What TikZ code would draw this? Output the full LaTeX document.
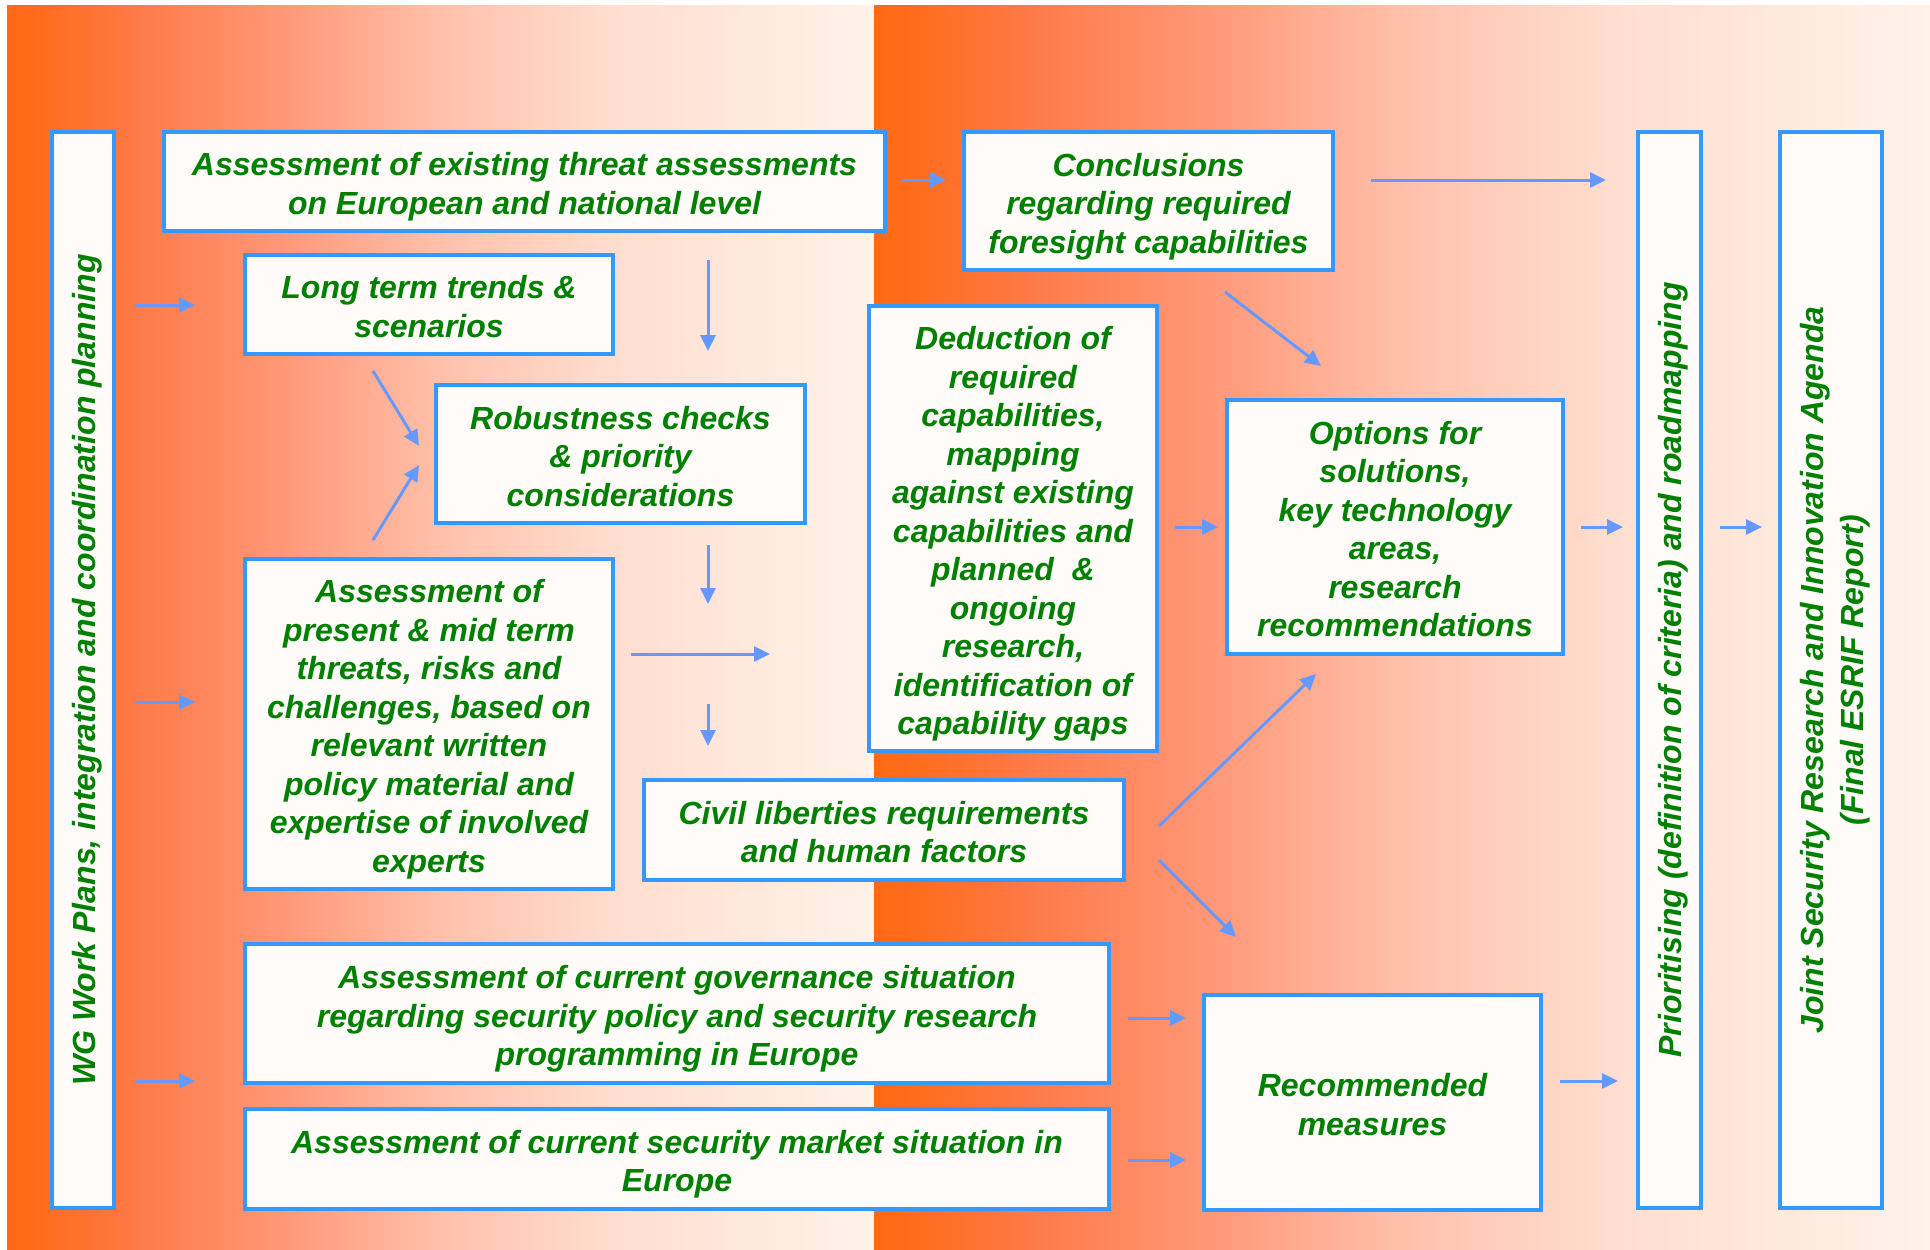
\documentclass[tikz,border=0pt]{standalone}
\usepackage{fontspec}
\setmainfont{Liberation Sans}
\usepackage{graphicx}
\usetikzlibrary{arrows.meta,calc}
\definecolor{txtgreen}{RGB}{0,128,0}
\definecolor{boxblue}{RGB}{51,153,255}
\definecolor{arrblue}{RGB}{102,153,255}
\definecolor{boxfill}{RGB}{255,251,248}
\definecolor{bgA}{RGB}{255,105,20}
\definecolor{bgB}{RGB}{255,108,28}
\definecolor{bgC}{RGB}{255,122,72}
\definecolor{bgD}{RGB}{255,152,120}
\definecolor{bgE}{RGB}{255,192,170}
\definecolor{bgF}{RGB}{255,222,208}
\definecolor{bgG}{RGB}{255,242,232}
\pgfdeclarehorizontalshading{panel}{100bp}{color(0bp)=(bgA); color(25bp)=(bgA); color(27bp)=(bgB); color(32.5bp)=(bgC); color(41bp)=(bgD); color(50bp)=(bgE); color(60bp)=(bgF); color(75bp)=(bgG); color(100bp)=(bgG)}
\newcommand\fl{\rule{0pt}{34pt}}
\newcommand\vl{\rule{0pt}{31.5pt}}
\begin{document}
\begin{tikzpicture}[x=1pt,y=-1pt,
  box/.style={draw=boxblue, line width=4pt, fill=boxfill, inner sep=0pt, align=center,
    text=txtgreen, font=\fontsize{32}{38.5}\selectfont\bfseries\itshape},
  tbox/.style={box, execute at end node={\rule[-6.8pt]{0pt}{6.8pt}}},
  arr/.style={draw=arrblue, line width=3pt, -{Triangle[length=16pt,width=15pt]}}]
\useasboundingbox (0,0) rectangle (1930,1250);
\fill[white] (0,0) rectangle (1930,1250);
\fill[shading=panel] (7,5) rectangle (874,1250);
\fill[shading=panel] (874,5) rectangle (1930,1250);

% nodes
\node[box, minimum width=62pt, minimum height=1076pt] (wg) at (83,670)
  {\rotatebox{90}{\vl WG Work Plans, integration and coordination planning}};
\node[box, minimum width=63pt, minimum height=1076pt] (pri) at (1669.5,670)
  {\rotatebox{90}{\vl Prioritising (definition of criteria) and roadmapping}};
\node[box, minimum width=102pt, minimum height=1076pt] (jnt) at (1831,670)
  {\rotatebox{90}{\renewcommand\arraystretch{1.05}\begin{tabular}{@{}c@{}}\rule{0pt}{37pt}Joint Security Research and Innovation Agenda\\(Final ESRIF Report)\end{tabular}}};
\node[tbox, minimum width=721pt, minimum height=99pt] (ass) at (524.5,181.5)
  {\fl Assessment of existing threat assessments\\on European and national level};
\node[tbox, minimum width=369pt, minimum height=138pt] (con) at (1148.5,201)
  {\fl Conclusions\\regarding required\\foresight capabilities};
\node[tbox, minimum width=368pt, minimum height=99pt] (lt) at (429,304.5)
  {\fl Long term trends \&\\scenarios};
\node[tbox, minimum width=369pt, minimum height=138pt] (rob) at (620.5,454)
  {\fl Robustness checks\\\& priority\\considerations};
\node[tbox, minimum width=288pt, minimum height=445pt] (ded) at (1013,528.5)
  {\fl Deduction of\\required\\capabilities,\\mapping\\against existing\\capabilities and\\planned\ \ \&\\ongoing\\research,\\identification of\\capability gaps};
\node[tbox, minimum width=336pt, minimum height=254pt] (opt) at (1395,527)
  {\fl Options for\\solutions,\\key technology\\areas,\\research\\recommendations};
\node[tbox, minimum width=368pt, minimum height=330pt] (pr) at (429,724)
  {\fl Assessment of\\present \& mid term\\threats, risks and\\challenges, based on\\relevant written\\policy material and\\expertise of involved\\experts};
\node[tbox, minimum width=480pt, minimum height=100pt] (civ) at (884,830)
  {\fl Civil liberties requirements\\and human factors};
\node[tbox, minimum width=864pt, minimum height=139pt] (gov) at (677,1013.5)
  {\fl Assessment of current governance situation\\regarding security policy and security research\\programming in Europe};
\node[tbox, minimum width=864pt, minimum height=100pt] (mkt) at (677,1159)
  {\fl Assessment of current security market situation in\\Europe};
\node[tbox, minimum width=337pt, minimum height=215pt] (rec) at (1372.5,1102.5)
  {\fl Recommended\\measures};

% connectors
\draw[arr, shorten <=19pt, shorten >=48pt] (wg.east |- 0,305) -- (lt.west |- 0,305);
\draw[arr, shorten <=19pt, shorten >=48pt] (wg.east |- 0,702) -- (pr.west |- 0,702);
\draw[arr, shorten <=19pt, shorten >=48pt] (wg.east |- 0,1081) -- (gov.west |- 0,1081);
\draw[arr, shorten <=15pt, shorten >=16pt] (ass.east |- 0,180) -- (con.west |- 0,180);
\draw[arr, shorten <=36pt, shorten >=30pt] (con.east |- 0,180) -- (pri.west |- 0,180);
\draw[arr, shorten <=27pt, shorten >=32pt] (ass.south -| 708,0) -- (rob.north -| 708,0);
\draw[arr] ($(lt.south)+(-56,15)$) -- ($(rob.west)+(-15,-8)$);
\draw[arr] ($(pr.north)+(-56,-17)$) -- ($(rob.west)+(-15,11)$);
\draw[arr, shorten <=20pt, shorten >=174pt] (rob.south -| 708,0) -- (civ.north -| 708,0);
\draw[arr, shorten <=16pt, shorten >=97pt] (pr.east |- 0,654) -- (ded.west |- 0,654);
\draw[arr, shorten <=179pt, shorten >=32pt] (rob.south -| 708,0) -- (civ.north -| 708,0);
\draw[arr] ($(con.south)+(76.5,20)$) -- ($(opt.north)+(-74,-32)$);
\draw[arr, shorten <=16pt, shorten >=7pt] (ded.east |- 0,527) -- (opt.west |- 0,527);
\draw[arr] ($(civ.east)+(33,-4)$) -- ($(opt.south)+(-79,18)$);
\draw[arr] ($(civ.east)+(33,30)$) -- ($(rec.north)+(-136.5,-56)$);
\draw[arr, shorten <=17pt, shorten >=16pt] (gov.east |- 0,1018) -- (rec.west |- 0,1018);
\draw[arr, shorten <=17pt, shorten >=16pt] (mkt.east |- 0,1160) -- (rec.west |- 0,1160);
\draw[arr, shorten <=16pt, shorten >=13pt] (opt.east |- 0,527) -- (pri.west |- 0,527);
\draw[arr, shorten <=17pt, shorten >=18pt] (rec.east |- 0,1081) -- (pri.west |- 0,1081);
\draw[arr, shorten <=17pt, shorten >=16pt] (pri.east |- 0,527) -- (jnt.west |- 0,527);
\end{tikzpicture}
\end{document}
